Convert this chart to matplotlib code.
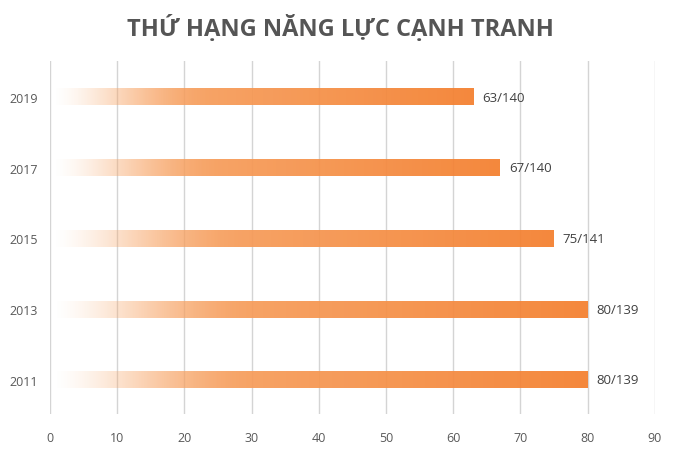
import matplotlib.pyplot as plt
import numpy as np
from matplotlib.colors import to_rgb

years = ['2011', '2013', '2015', '2017', '2019']
ranks = [80, 80, 75, 67, 63]
labels = ['80/139', '80/139', '75/141', '67/140', '63/140']
xticks = [0, 10, 20, 30, 40, 50, 60, 70, 80, 90]

plt.rcParams['font.family'] = ['Open Sans', 'DejaVu Sans']

fig = plt.figure(figsize=(6.8, 4.52), dpi=100)
ax = fig.add_axes([0.0735, 0.082, 0.8895, 0.781])

# gradient: transparent on the left, full orange on the right
light = np.array(to_rgb('#f8ad73'))
dark = np.array(to_rgb('#f47f2e'))
n = 256
t = np.linspace(0, 1, n)
rgba = np.zeros((1, n, 4))
rgba[0, :, :3] = light[None, :] * (1 - t[:, None]) + dark[None, :] * t[:, None]
s = np.clip(t / 0.38, 0, 1)
rgba[0, :, 3] = np.sin(s * np.pi / 2) ** 1.4 * 0.93

h = 0.24
for i, (v, lab) in enumerate(zip(ranks, labels)):
    ax.imshow(rgba, extent=[0.5, v, i - h / 2, i + h / 2], aspect='auto',
              interpolation='bilinear', zorder=2)
    ax.text(v + 1.3, i, lab, va='center', ha='left', fontsize=9.5, color='#404040')

for x in xticks:
    ax.axvline(x, color='#d4d4d4', lw=1.0, zorder=1)

ax.set_xlim(0, 90)
ax.set_ylim(-0.48, 4.51)
ax.set_xticks(xticks)
ax.set_yticks(range(len(years)))
ax.set_yticklabels(years)
ax.tick_params(length=0, labelsize=9, colors='#595959')
ax.tick_params(axis='x', pad=12)
ax.tick_params(axis='y', pad=9)
for sp in ax.spines.values():
    sp.set_visible(False)

fig.text(0.5, 0.937, 'THỨ HẠNG NĂNG LỰC CẠNH TRANH', ha='center', va='center',
         fontsize=17, fontweight='bold', color='#555555')

fig.savefig('out.png', dpi=100, facecolor='white')
